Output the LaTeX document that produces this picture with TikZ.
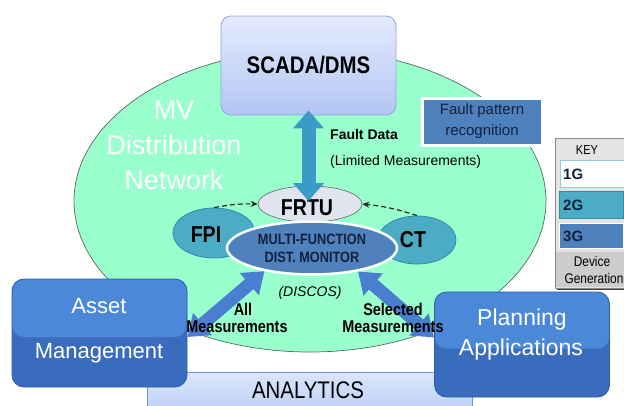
\documentclass[tikz,border=0pt]{standalone}
\usepackage{fontspec}
\setmainfont{Liberation Sans}
\newfontfamily\narrowfont[FakeStretch=0.85]{Liberation Sans}
\usetikzlibrary{shapes.geometric,arrows.meta,calc}
\definecolor{netgreen}{HTML}{99FFCC}
\definecolor{netedge}{HTML}{5A6A60}
\definecolor{scadatop}{HTML}{E4EBFF}
\definecolor{scadabot}{HTML}{B2C5F3}
\definecolor{scadaedge}{HTML}{8FA7DA}
\definecolor{blue3}{HTML}{4F81BD}
\definecolor{teal2}{HTML}{4BACC6}
\definecolor{tealedge}{HTML}{2E8BA8}
\definecolor{frtufill}{HTML}{DFE4EE}
\definecolor{darktext}{HTML}{14213D}
\definecolor{arrowteal}{HTML}{3A9CC6}
\definecolor{arrowblue}{HTML}{4A7ED0}
\definecolor{boxtop}{HTML}{4C88D8}
\definecolor{boxbot}{HTML}{3A6CBE}
\definecolor{boxedge}{HTML}{2D5C9F}
\definecolor{antop}{HTML}{DCE6FB}
\definecolor{anbot}{HTML}{BCD0F6}
\definecolor{anedge}{HTML}{6F95D4}
\definecolor{keybg}{HTML}{E3E3E3}
\definecolor{keyedge}{HTML}{8A8A8A}
\begin{document}
\begin{tikzpicture}[x=1pt,y=-1pt,
  every node/.style={inner sep=0pt},
  ell/.style={ellipse,inner sep=0pt},
  appbox/.style={rounded corners=12pt,fill=boxbot,draw=boxedge,line width=0.8pt,
    path picture={\fill[boxtop] (path picture bounding box.north west) rectangle ([yshift=-4pt]path picture bounding box.east);}},
  bigtxt/.style={text=white,anchor=base,font=\fontsize{22}{26}\selectfont},
  dasharrow/.style={dash pattern=on 5pt off 3pt,line width=1.2pt,draw=black!85,-{Stealth[length=7pt,width=6pt]}},
  tealarrow/.style={line width=14pt,draw=arrowteal,{Triangle[length=18pt,width=30pt]}-{Triangle[length=18pt,width=30pt]}},
  bluearrow/.style={line width=13pt,draw=arrowblue,{Triangle[length=20pt,width=28pt]}-{Triangle[length=20pt,width=28pt]}},
  meas/.style={font=\narrowfont\bfseries\fontsize{17}{20}\selectfont,text=black},
  keybox/.style={minimum width=64pt,minimum height=27pt,line width=1pt},
  keytxt/.style={anchor=west,font=\bfseries\fontsize{15}{18}\selectfont,text=darktext}
]
\useasboundingbox (0,0) rectangle (624,405);
\fill[white] (0,0) rectangle (624,405);

% network ellipse
\node[ell,fill=netgreen,draw=netedge,line width=0.7pt,minimum width=472pt,minimum height=302pt] (net) at (310,201) {};
\node[text=white,align=center,font=\fontsize{27}{35}\selectfont] (mv) at (174,145) {MV\\Distribution\\Network};

% SCADA
\node[rounded corners=10pt,top color=scadatop,bottom color=scadabot,draw=scadaedge,line width=0.8pt,
  minimum width=175pt,minimum height=99pt,font=\narrowfont\bfseries\fontsize{24}{26}\selectfont] (scada) at (308.5,65.5) {SCADA/DMS};

% Fault pattern recognition
\node[fill=blue3,draw=white,line width=3pt,minimum width=120pt,minimum height=47pt,align=center,
  text=darktext,font=\fontsize{15}{21}\selectfont] (fpr) at (482,121.5) {Fault pattern\\recognition};

% Key
\fill[black!75] (557,141) rectangle (628,290);
\node[fill=keybg,draw=keyedge,line width=0.8pt,minimum width=71pt,minimum height=150pt] (key) at (590.5,213) {};
\fill[black!20] (556,252) rectangle (626,287);
\node[font=\narrowfont\fontsize{13}{15}\selectfont] (keyt) at (587,150) {KEY};
\node[keybox,fill=white,draw=teal2!60] (k1) at (592,173.5) {};
\node[keybox,fill=teal2,draw=tealedge] (k2) at (591,205) {};
\node[keybox,fill=blue3,draw=white,minimum height=25pt] (k3) at (591,236) {};
\node[keytxt] at (563,174) {1G};
\node[keytxt] at (563,205) {2G};
\node[keytxt] at (563,236) {3G};
\node[font=\narrowfont\fontsize{14}{16}\selectfont] (dev) at (592,261) {Device};
\node[font=\narrowfont\fontsize{14}{16}\selectfont] (gen) at (594,278) {Generation};

% devices
\node[ell,fill=teal2,draw=tealedge,line width=0.8pt,minimum width=82pt,minimum height=50pt] (fpi) at (214,233) {};
\node[ell,fill=teal2,draw=tealedge,line width=0.8pt,minimum width=78pt,minimum height=48pt] (ct) at (417,240) {};
\node[ell,fill=frtufill,draw=black!60,line width=0.6pt,minimum width=104pt,minimum height=36pt] (frtu) at (310,204) {};
\node[font=\narrowfont\bfseries\fontsize{23}{24}\selectfont] (frtut) at (307,208) {FRTU};
\node[font=\narrowfont\bfseries\fontsize{23}{24}\selectfont] (fpit) at (206,235) {FPI};
\node[font=\narrowfont\bfseries\fontsize{23}{24}\selectfont] (ctt) at (413,240) {CT};
\draw[dasharrow] (fpi.north) to[bend left=6] (frtu.west);
\draw[dasharrow] (ct.north) to[bend right=6] (frtu.east);
\node[ell,fill=blue3,draw=white,line width=2.5pt,minimum width=170pt,minimum height=53pt,align=center,
  text=darktext,font=\narrowfont\bfseries\fontsize{15}{18}\selectfont] (mf) at (312,248) {MULTI-FUNCTION\\DIST. MONITOR};

% vertical arrow
\draw[tealarrow] ([yshift=5pt]scada.south) -- ([yshift=3pt]scada.south |- frtu.center);
\node[anchor=west,font=\bfseries\fontsize{14}{16}\selectfont] (fd) at (330,134) {Fault Data};
\node[anchor=west,font=\fontsize{14}{16}\selectfont] (lm) at (330,162) {(Limited Measurements)};
\node[font=\itshape\fontsize{14}{16}\selectfont] (discos) at (310,293) {(DISCOS)};

% bottom
\node[top color=antop,bottom color=anbot,draw=anedge,line width=0.8pt,minimum width=325pt,minimum height=40pt] (an) at (309.5,392) {};
\node[anchor=base,font=\narrowfont\fontsize{24}{26}\selectfont] (ant) at (308,398) {ANALYTICS};
\node[appbox,minimum width=175pt,minimum height=108pt] (asset) at (99.5,333) {};
\node[bigtxt] at (99,313) {Asset};
\node[bigtxt] at (99,358) {Management};
\node[appbox,minimum width=175pt,minimum height=105pt] (plan) at (522,344.5) {};
\node[bigtxt,font=\fontsize{23}{26}\selectfont] at (522,325) {Planning};
\node[bigtxt,font=\fontsize{23}{26}\selectfont] at (521,355) {Applications};

% diagonal arrows
\draw[bluearrow] (mf.206) -- ([yshift=-4pt]asset.east);
\draw[bluearrow] (mf.333) -- ([yshift=7pt]plan.west);
\node[meas] (all1) at (243,309) {All};
\node[meas] (all2) at (237,327) {Measurements};
\node[meas] (sel1) at (393,309) {Selected};
\node[meas] (sel2) at (393,327) {Measurements};
\end{tikzpicture}
\end{document}
